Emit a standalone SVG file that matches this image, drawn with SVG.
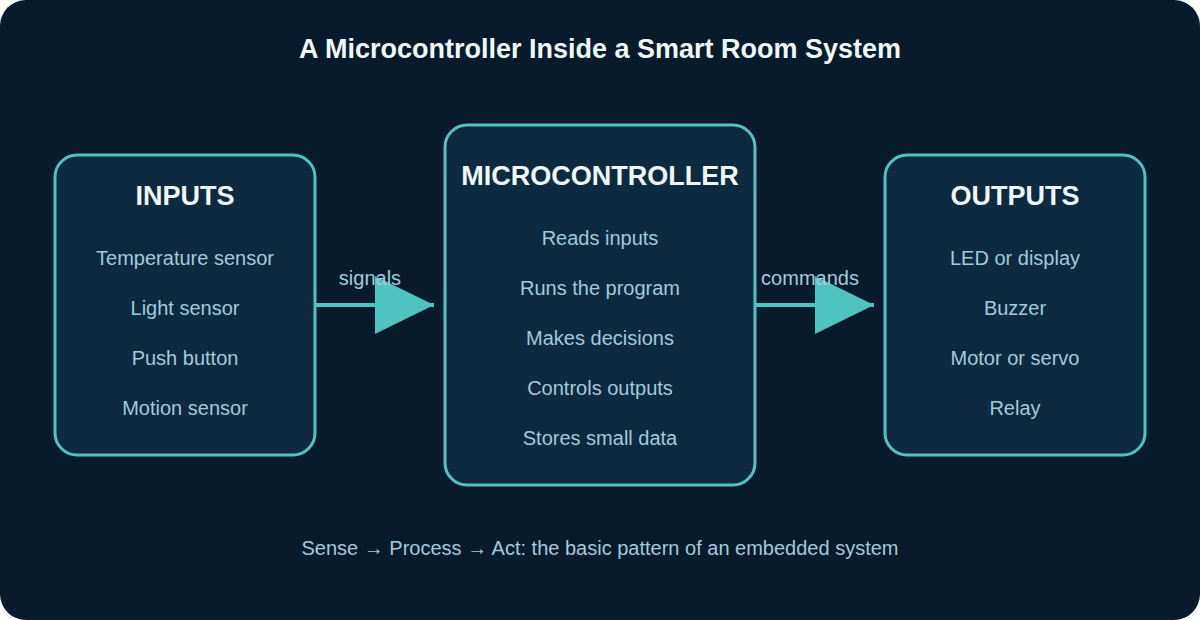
<svg xmlns="http://www.w3.org/2000/svg" width="1200" height="620" viewBox="0 0 1200 620">
<style>
.box{fill:#0d2a40;stroke:#4fc3c0;stroke-width:3}
.h{font-family:"Liberation Sans",Arial,sans-serif;font-weight:bold;font-size:27px;fill:#eef8fb;text-anchor:middle}
.it{font-family:"Liberation Sans",Arial,sans-serif;font-size:20px;fill:#a3c9dc;text-anchor:middle}
.lbl{font-family:"Liberation Sans",Arial,sans-serif;font-size:20px;fill:#a3c9dc;text-anchor:middle}
.conn{stroke:#4fc3c0;stroke-width:4;fill:none}
</style>
<defs>
<marker id="ah" markerUnits="userSpaceOnUse" markerWidth="60" markerHeight="60" viewBox="0 0 60 58" refX="59" refY="29" orient="auto">
<polygon points="0,0 59,29 0,58" fill="#4fc3c0"/>
</marker>
</defs>
<rect x="0" y="0" width="1200" height="620" rx="26" fill="#071b2c"/>
<text x="600" y="58" font-family="'Liberation Sans',Arial,sans-serif" font-weight="bold" font-size="27" fill="#eef8fb" text-anchor="middle">A Microcontroller Inside a Smart Room System</text>
<g id="inputs">
<rect class="box" x="55" y="155" width="260" height="300" rx="22"/>
<text class="h" x="185" y="205">INPUTS</text>
<text class="it" x="185" y="265">Temperature sensor</text>
<text class="it" x="185" y="315">Light sensor</text>
<text class="it" x="185" y="365">Push button</text>
<text class="it" x="185" y="415">Motion sensor</text>
</g>
<g id="microcontroller">
<rect class="box" x="445" y="125" width="310" height="360" rx="22"/>
<text class="h" x="600" y="185">MICROCONTROLLER</text>
<text class="it" x="600" y="245">Reads inputs</text>
<text class="it" x="600" y="295">Runs the program</text>
<text class="it" x="600" y="345">Makes decisions</text>
<text class="it" x="600" y="395">Controls outputs</text>
<text class="it" x="600" y="445">Stores small data</text>
</g>
<g id="outputs">
<rect class="box" x="885" y="155" width="260" height="300" rx="22"/>
<text class="h" x="1015" y="205">OUTPUTS</text>
<text class="it" x="1015" y="265">LED or display</text>
<text class="it" x="1015" y="315">Buzzer</text>
<text class="it" x="1015" y="365">Motor or servo</text>
<text class="it" x="1015" y="415">Relay</text>
</g>
<g id="connectors">
<line class="conn" x1="316" y1="305" x2="434" y2="305" marker-end="url(#ah)"/>
<text class="lbl" x="370" y="285">signals</text>
<line class="conn" x1="756" y1="305" x2="874" y2="305" marker-end="url(#ah)"/>
<text class="lbl" x="810" y="285">commands</text>
</g>
<text x="600" y="555" font-family="'Liberation Sans',Arial,sans-serif" font-size="20" fill="#a3c9dc" text-anchor="middle">Sense → Process → Act: the basic pattern of an embedded system</text>
</svg>
